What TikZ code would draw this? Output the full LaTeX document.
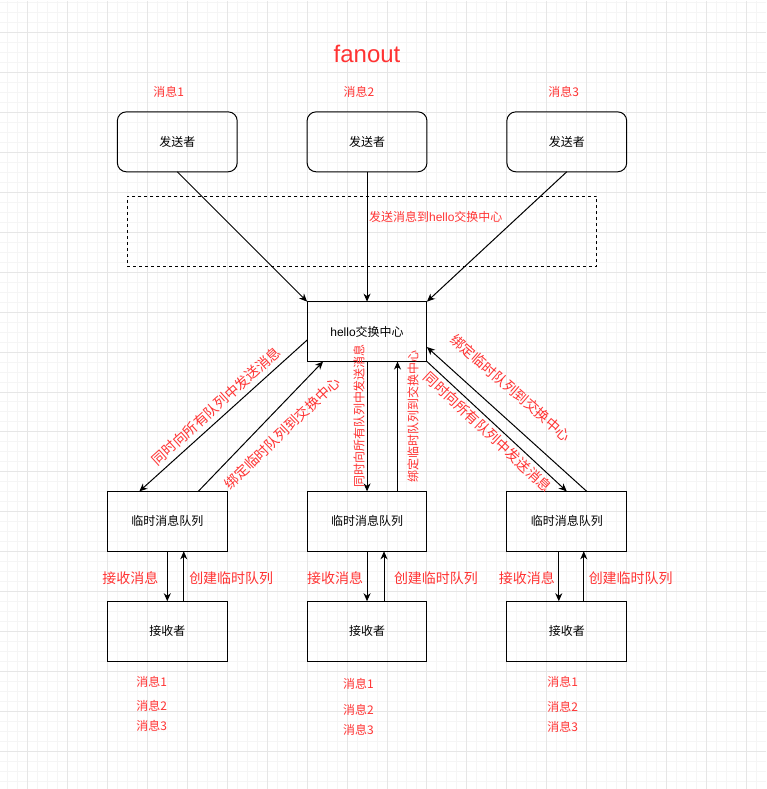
\documentclass[tikz,border=0pt]{standalone}
\usepackage{fontspec}
\setmainfont{Noto Sans CJK SC}
\newfontfamily\latinfont{Liberation Sans}
\usetikzlibrary{arrows.meta}
\definecolor{labelred}{RGB}{255,51,51}
\definecolor{gridmajor}{RGB}{230,230,230}
\definecolor{gridminor}{RGB}{245,245,245}

\begin{document}
\begin{tikzpicture}[x=1pt,y=-1pt,
  box/.style={draw, line width=1pt, minimum width=120pt, minimum height=60pt,
    inner sep=0pt, outer sep=0pt, font=\fontsize{12}{14}\selectfont},
  sender/.style={box, rounded corners=9pt},
  flow/.style={line width=1pt, -{Stealth[length=8pt,width=7pt,inset=2.5pt]}},
  note/.style={text=labelred, font=\fontsize{12}{14}\selectfont, inner sep=0pt},
  bignote/.style={text=labelred, font=\fontsize{14}{16}\selectfont, inner sep=0pt},
]
% canvas and grid
\fill[white] (0,0) rectangle (766,789);
\foreach \x in {7,17,...,757} \draw[gridminor, line width=1pt] (\x,0) -- (\x,789);
\foreach \y in {2,12,...,782} \draw[gridminor, line width=1pt] (0,\y) -- (766,\y);
\foreach \x in {27,67,...,747} \draw[gridmajor, line width=1pt] (\x,0) -- (\x,789);
\foreach \y in {32,72,...,752} \draw[gridmajor, line width=1pt] (0,\y) -- (766,\y);
\useasboundingbox (0,0) rectangle (766,789);

% title
\node[text=labelred, font=\latinfont\fontsize{24}{28}\selectfont, inner sep=0pt] (title) at (367,54) {fanout};

% dashed region
\node[draw, dashed, dash pattern=on 3pt off 3pt, line width=1pt, minimum width=470pt,
  minimum height=70pt, inner sep=0pt] (zone) at (362,231) {};
\node[note, anchor=west] (zonelabel) at (369,217) {发送消息到{\latinfont hello}交换中心};

% senders
\node[sender] (s1) at (177,141.5) {发送者};
\node[sender] (s2) at (367,141.5) {发送者};
\node[sender] (s3) at (567,141.5) {发送者};
\node[note] (m1) at (168.5,92) {消息1};
\node[note] (m2) at (359,92) {消息2};
\node[note] (m3) at (564,92) {消息3};

% exchange
\node[box] (ex) at (367,331.5) {{\latinfont hello}交换中心};

% queues and receivers
\node[box] (q1) at (167,521.5) {临时消息队列};
\node[box] (q2) at (367,521.5) {临时消息队列};
\node[box] (q3) at (567,521.5) {临时消息队列};
\node[box] (r1) at (167,631.5) {接收者};
\node[box] (r2) at (367,631.5) {接收者};
\node[box] (r3) at (567,631.5) {接收者};

% senders to exchange
\draw[flow] (s1.south) -- (ex.north west);
\draw[flow] (s2.south) -- (ex.north);
\draw[flow] (s3.south) -- (ex.north east);

% exchange <-> queues
\draw[flow] ([yshift=-8.5pt]ex.west) -- ([xshift=-28pt]q1.north);
\draw[flow] ([xshift=31pt]q1.north) -- ([xshift=-44pt]ex.south);
\draw[flow] (ex.south) -- (q2.north);
\draw[flow] ([xshift=30.5pt]q2.north) -- ([xshift=30.5pt]ex.south);
\draw[flow] (ex.south east) -- (q3.north);
\draw[flow] ([xshift=20pt]q3.north) -- ([yshift=-15.5pt]ex.east);

\node[bignote, rotate=42] (l1) at (216,406) {同时向所有队列中发送消息};
\node[bignote, rotate=44] (l2) at (282,433) {绑定临时队列到交换中心};
\node[note, rotate=90] (l3) at (359,416) {同时向所有队列中发送消息};
\node[note, rotate=90] (l4) at (413,416.5) {绑定临时队列到交换中心};
\node[bignote, rotate=-41] (l5) at (511,388) {绑定临时队列到交换中心};
\node[bignote, rotate=-43] (l6) at (488,432) {同时向所有队列中发送消息};

% queues <-> receivers
\draw[flow] (q1.south) -- (r1.north);
\draw[flow] ([xshift=16.5pt]r1.north) -- ([xshift=16.5pt]q1.south);
\draw[flow] (q2.south) -- (r2.north);
\draw[flow] ([xshift=17pt]r2.north) -- ([xshift=17pt]q2.south);
\draw[flow] ([xshift=-8pt]q3.south) -- ([xshift=-8pt]r3.north);
\draw[flow] ([xshift=17pt]r3.north) -- ([xshift=17pt]q3.south);

\node[bignote] (rc1) at (130,578) {接收消息};
\node[bignote] (cq1) at (231,578) {创建临时队列};
\node[bignote] (rc2) at (335,578) {接收消息};
\node[bignote] (cq2) at (436,578) {创建临时队列};
\node[bignote] (rc3) at (527,578) {接收消息};
\node[bignote] (cq3) at (631,578) {创建临时队列};

% messages received
\node[note] (a1) at (151.5,682) {消息1};
\node[note] (a2) at (151.5,706.5) {消息2};
\node[note] (a3) at (151.5,726.5) {消息3};
\node[note] (b1) at (358.5,684.5) {消息1};
\node[note] (b2) at (358.5,710) {消息2};
\node[note] (b3) at (358.5,730) {消息3};
\node[note] (c1) at (563,682) {消息1};
\node[note] (c2) at (563,707) {消息2};
\node[note] (c3) at (563,727) {消息3};
\end{tikzpicture}
\end{document}
